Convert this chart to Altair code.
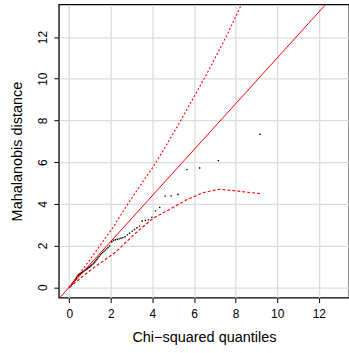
import altair as alt
import pandas as pd

# Observed points (chi-squared quantile, Mahalanobis distance)
qx = [0.013, 0.040, 0.068, 0.096, 0.124, 0.152, 0.181, 0.211, 0.241, 0.271,
      0.302, 0.333, 0.365, 0.397, 0.430, 0.463, 0.497, 0.531, 0.566, 0.602,
      0.639, 0.676, 0.713, 0.752, 0.791, 0.831, 0.872, 0.914, 0.956, 1.000,
      1.044, 1.089, 1.136, 1.184, 1.232, 1.282, 1.334, 1.386, 1.440, 1.496,
      1.553, 1.612, 1.673, 1.735, 1.800, 1.866, 1.935,
      2.05, 2.13, 2.22, 2.31, 2.40, 2.49, 2.58, 2.68, 2.79, 2.90,
      3.03, 3.14, 3.25, 3.38, 3.51, 3.66, 3.81, 3.97, 4.15, 4.35,
      4.61, 4.90, 5.23, 5.66, 6.27, 7.17, 9.17]
md = [0.01, 0.03, 0.06, 0.10, 0.14, 0.17, 0.20, 0.25, 0.29, 0.33,
      0.38, 0.43, 0.48, 0.53, 0.57, 0.60, 0.63, 0.65, 0.67, 0.70,
      0.73, 0.75, 0.78, 0.81, 0.84, 0.87, 0.90, 0.93, 0.96, 0.99,
      1.03, 1.07, 1.11, 1.16, 1.21, 1.28, 1.34, 1.41, 1.48, 1.55,
      1.61, 1.67, 1.73, 1.78, 1.84, 1.90, 1.98,
      2.18, 2.25, 2.28, 2.30, 2.32, 2.35, 2.38, 2.42, 2.51, 2.59,
      2.69, 2.77, 2.85, 2.93, 3.18, 3.20, 3.23, 3.35, 3.66, 3.83,
      4.37, 4.38, 4.45, 5.64, 5.72, 6.07, 7.34]

# Reference line
ref_x = [-1.0, 14.0]
ref_y = [-1.1, 15.4]

# Upper envelope
up_x = [0.01, 0.5, 1.0, 1.71, 2.11, 2.82, 3.5, 4.02, 4.42, 5.22, 6.01, 6.81, 7.61, 8.25, 9.17]
up_y = [0.02, 0.66, 1.33, 2.32, 2.88, 4.0, 5.0, 5.75, 6.4, 7.75, 9.15, 10.6, 12.15, 13.5, 15.5]

# Lower envelope
lo_x = [0.01, 0.5, 1.0, 1.5, 2.25, 3.14, 4.02, 4.82, 5.62, 6.41, 7.21, 8.01, 9.17]
lo_y = [0.0, 0.4, 0.8, 1.17, 1.70, 2.55, 3.3, 3.73, 4.18, 4.53, 4.70, 4.62, 4.49]

ticks = [0, 2, 4, 6, 8, 10, 12]

pts = pd.DataFrame({"x": qx, "y": md})
ref = pd.DataFrame({"x": ref_x, "y": ref_y})
up = pd.DataFrame({"x": up_x, "y": up_y})
lo = pd.DataFrame({"x": lo_x, "y": lo_y})

FONT = "Liberation Sans"

xs = alt.Scale(domain=[-0.5, 13.45], nice=False, zero=False)
ys = alt.Scale(domain=[-0.5, 13.56], nice=False, zero=False)

xax = alt.Axis(values=ticks, title="Chi\u2212squared quantiles", grid=True,
               gridColor="#dcdcdc", gridWidth=1.3, domain=False,
               tickColor="black", tickSize=5, tickWidth=1,
               labelFont=FONT, labelFontSize=12, labelColor="black", labelPadding=6,
               titleFont=FONT, titleFontSize=14.5, titleFontWeight="normal",
               titleColor="black", titleY=40, titleBaseline="middle")
yax = alt.Axis(values=ticks, title="Mahalanobis distance", grid=True,
               gridColor="#dcdcdc", gridWidth=1.3, domain=False,
               tickColor="black", tickSize=5, tickWidth=1,
               labelFont=FONT, labelFontSize=12, labelColor="black", labelPadding=4,
               labelAngle=-90, labelAlign="center", labelBaseline="bottom",
               titleFont=FONT, titleFontSize=14.5, titleFontWeight="normal",
               titleColor="black", titleAngle=-90, titleX=-41, titleY=147,
               titleBaseline="middle", titleAlign="center")

base_x = alt.X("x:Q", scale=xs, axis=xax)
base_y = alt.Y("y:Q", scale=ys, axis=yax)

points = alt.Chart(pts).mark_square(size=2, color="black", opacity=1, clip=True).encode(
    x=base_x, y=base_y)
refl = alt.Chart(ref).mark_line(color="#ff0000", strokeWidth=1, clip=True).encode(
    x=alt.X("x:Q", scale=xs), y=alt.Y("y:Q", scale=ys))
upl = alt.Chart(up).mark_line(color="#ff0000", strokeWidth=1.1, strokeDash=[2, 2], clip=True).encode(
    x=alt.X("x:Q", scale=xs), y=alt.Y("y:Q", scale=ys))
lol = alt.Chart(lo).mark_line(color="#ff0000", strokeWidth=1.1, strokeDash=[3, 2], clip=True).encode(
    x=alt.X("x:Q", scale=xs), y=alt.Y("y:Q", scale=ys))

chart = alt.layer(points, refl, upl, lol).properties(
    width=291, height=294,
    autosize=alt.AutoSizeParams(type="none"),
    padding={"left": 59, "top": 4, "right": 0, "bottom": 55},
    background="white",
).configure_view(stroke="black", strokeWidth=1.3)

chart.save("out.html", embed_options={"renderer": "svg", "actions": False})
